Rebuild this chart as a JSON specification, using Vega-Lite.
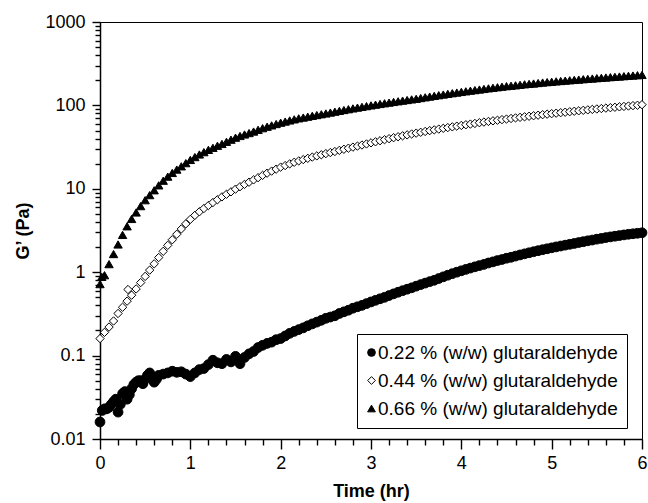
{
"$schema":"https://vega.github.io/schema/vega-lite/v6.json",
"width":542,"height":417,
"autosize":{"type":"none"},
"padding":{"left":100,"top":22,"right":6,"bottom":64},
"background":"white",
"config":{"view":{"stroke":"black","strokeWidth":1},"font":"Liberation Sans"},
"datasets":{
"pts":[
{"s":"a","t":0,"g":0.016},{"s":"a","t":0.025,"g":0.022},{"s":"a","t":0.05,"g":0.023},{"s":"a","t":0.075,"g":0.023},{"s":"a","t":0.1,"g":0.024},{"s":"a","t":0.125,"g":0.026},{"s":"a","t":0.15,"g":0.028},{"s":"a","t":0.175,"g":0.03},{"s":"a","t":0.2,"g":0.021},{"s":"a","t":0.225,"g":0.026},{"s":"a","t":0.25,"g":0.035},{"s":"a","t":0.275,"g":0.037},{"s":"a","t":0.3,"g":0.03},{"s":"a","t":0.325,"g":0.034},{"s":"a","t":0.35,"g":0.04},{"s":"a","t":0.375,"g":0.045},{"s":"a","t":0.4,"g":0.048},{"s":"a","t":0.425,"g":0.05},{"s":"a","t":0.45,"g":0.05},{"s":"a","t":0.475,"g":0.046},{"s":"a","t":0.5,"g":0.052},{"s":"a","t":0.525,"g":0.058},{"s":"a","t":0.55,"g":0.062},{"s":"a","t":0.575,"g":0.055},{"s":"a","t":0.6,"g":0.048},{"s":"a","t":0.625,"g":0.052},{"s":"a","t":0.65,"g":0.058},{"s":"a","t":0.7,"g":0.06},{"s":"a","t":0.75,"g":0.062},{"s":"a","t":0.8,"g":0.065},{"s":"a","t":0.85,"g":0.063},{"s":"a","t":0.9,"g":0.064},{"s":"a","t":0.95,"g":0.06},{"s":"a","t":1,"g":0.056},{"s":"a","t":1.05,"g":0.062},{"s":"a","t":1.1,"g":0.068},{"s":"a","t":1.15,"g":0.07},{"s":"a","t":1.2,"g":0.078},{"s":"a","t":1.25,"g":0.088},{"s":"a","t":1.3,"g":0.082},{"s":"a","t":1.35,"g":0.08},{"s":"a","t":1.4,"g":0.09},{"s":"a","t":1.45,"g":0.084},{"s":"a","t":1.5,"g":0.098},{"s":"a","t":1.55,"g":0.08},{"s":"a","t":1.6,"g":0.095},{"s":"a","t":1.65,"g":0.105},{"s":"a","t":1.7,"g":0.112},{"s":"a","t":1.75,"g":0.125},{"s":"a","t":1.8,"g":0.133},{"s":"a","t":1.85,"g":0.14},{"s":"a","t":1.9,"g":0.145},{"s":"a","t":1.95,"g":0.155},{"s":"a","t":2,"g":0.16},{"s":"a","t":2.05,"g":0.172},{"s":"a","t":2.1,"g":0.185},{"s":"a","t":2.15,"g":0.195},{"s":"a","t":2.2,"g":0.205},{"s":"a","t":2.25,"g":0.215},{"s":"a","t":2.3,"g":0.228},{"s":"a","t":2.35,"g":0.24},{"s":"a","t":2.4,"g":0.252},{"s":"a","t":2.45,"g":0.265},{"s":"a","t":2.5,"g":0.28},{"s":"a","t":2.55,"g":0.29},{"s":"a","t":2.6,"g":0.3},{"s":"a","t":2.65,"g":0.32},{"s":"a","t":2.7,"g":0.335},{"s":"a","t":2.75,"g":0.35},{"s":"a","t":2.8,"g":0.37},{"s":"a","t":2.85,"g":0.385},{"s":"a","t":2.9,"g":0.4},{"s":"a","t":2.95,"g":0.42},{"s":"a","t":3,"g":0.44},{"s":"a","t":3.05,"g":0.46},{"s":"a","t":3.1,"g":0.48},{"s":"a","t":3.15,"g":0.5},{"s":"a","t":3.2,"g":0.525},{"s":"a","t":3.25,"g":0.55},{"s":"a","t":3.3,"g":0.575},{"s":"a","t":3.35,"g":0.6},{"s":"a","t":3.4,"g":0.625},{"s":"a","t":3.45,"g":0.65},{"s":"a","t":3.5,"g":0.68},{"s":"a","t":3.55,"g":0.71},{"s":"a","t":3.6,"g":0.74},{"s":"a","t":3.65,"g":0.77},{"s":"a","t":3.7,"g":0.8},{"s":"a","t":3.75,"g":0.84},{"s":"a","t":3.8,"g":0.88},{"s":"a","t":3.85,"g":0.92},{"s":"a","t":3.9,"g":0.96},{"s":"a","t":3.95,"g":1},{"s":"a","t":4,"g":1.04},{"s":"a","t":4.05,"g":1.08},{"s":"a","t":4.1,"g":1.12},{"s":"a","t":4.15,"g":1.16},{"s":"a","t":4.2,"g":1.2},{"s":"a","t":4.25,"g":1.24},{"s":"a","t":4.3,"g":1.29},{"s":"a","t":4.35,"g":1.33},{"s":"a","t":4.4,"g":1.38},{"s":"a","t":4.45,"g":1.42},{"s":"a","t":4.5,"g":1.47},{"s":"a","t":4.55,"g":1.51},{"s":"a","t":4.6,"g":1.56},{"s":"a","t":4.65,"g":1.61},{"s":"a","t":4.7,"g":1.66},{"s":"a","t":4.75,"g":1.71},{"s":"a","t":4.8,"g":1.76},{"s":"a","t":4.85,"g":1.81},{"s":"a","t":4.9,"g":1.86},{"s":"a","t":4.95,"g":1.91},{"s":"a","t":5,"g":1.96},{"s":"a","t":5.05,"g":2.01},{"s":"a","t":5.1,"g":2.06},{"s":"a","t":5.15,"g":2.11},{"s":"a","t":5.2,"g":2.16},{"s":"a","t":5.25,"g":2.21},{"s":"a","t":5.3,"g":2.27},{"s":"a","t":5.35,"g":2.32},{"s":"a","t":5.4,"g":2.38},{"s":"a","t":5.45,"g":2.43},{"s":"a","t":5.5,"g":2.49},{"s":"a","t":5.55,"g":2.54},{"s":"a","t":5.6,"g":2.6},{"s":"a","t":5.65,"g":2.65},{"s":"a","t":5.7,"g":2.7},{"s":"a","t":5.75,"g":2.75},{"s":"a","t":5.8,"g":2.8},{"s":"a","t":5.85,"g":2.85},{"s":"a","t":5.9,"g":2.89},{"s":"a","t":5.95,"g":2.93},{"s":"a","t":6,"g":2.97},
{"s":"b","t":0,"g":0.16},{"s":"b","t":0.05,"g":0.19},{"s":"b","t":0.1,"g":0.22},{"s":"b","t":0.15,"g":0.26},{"s":"b","t":0.2,"g":0.32},{"s":"b","t":0.25,"g":0.38},{"s":"b","t":0.3,"g":0.45},{"s":"b","t":0.31,"g":0.62},{"s":"b","t":0.35,"g":0.53},{"s":"b","t":0.4,"g":0.63},{"s":"b","t":0.45,"g":0.75},{"s":"b","t":0.5,"g":0.89},{"s":"b","t":0.55,"g":1.06},{"s":"b","t":0.6,"g":1.26},{"s":"b","t":0.65,"g":1.5},{"s":"b","t":0.7,"g":1.78},{"s":"b","t":0.75,"g":2.1},{"s":"b","t":0.8,"g":2.45},{"s":"b","t":0.85,"g":2.85},{"s":"b","t":0.9,"g":3.3},{"s":"b","t":0.95,"g":3.8},{"s":"b","t":1,"g":4.3},{"s":"b","t":1.05,"g":4.8},{"s":"b","t":1.1,"g":5.3},{"s":"b","t":1.15,"g":5.8},{"s":"b","t":1.2,"g":6.3},{"s":"b","t":1.25,"g":6.85},{"s":"b","t":1.3,"g":7.4},{"s":"b","t":1.35,"g":8},{"s":"b","t":1.4,"g":8.6},{"s":"b","t":1.45,"g":9.2},{"s":"b","t":1.5,"g":9.9},{"s":"b","t":1.55,"g":10.6},{"s":"b","t":1.6,"g":11.3},{"s":"b","t":1.65,"g":12},{"s":"b","t":1.7,"g":12.8},{"s":"b","t":1.75,"g":13.6},{"s":"b","t":1.8,"g":14.5},{"s":"b","t":1.85,"g":15.4},{"s":"b","t":1.9,"g":16.3},{"s":"b","t":1.95,"g":17.2},{"s":"b","t":2,"g":18.2},{"s":"b","t":2.05,"g":19},{"s":"b","t":2.1,"g":19.9},{"s":"b","t":2.15,"g":20.8},{"s":"b","t":2.2,"g":21.6},{"s":"b","t":2.25,"g":22.4},{"s":"b","t":2.3,"g":23.2},{"s":"b","t":2.35,"g":24},{"s":"b","t":2.4,"g":24.8},{"s":"b","t":2.45,"g":25.6},{"s":"b","t":2.5,"g":26.4},{"s":"b","t":2.55,"g":27.2},{"s":"b","t":2.6,"g":28},{"s":"b","t":2.65,"g":28.9},{"s":"b","t":2.7,"g":29.8},{"s":"b","t":2.75,"g":30.7},{"s":"b","t":2.8,"g":31.6},{"s":"b","t":2.85,"g":32.5},{"s":"b","t":2.9,"g":33.5},{"s":"b","t":2.95,"g":34.5},{"s":"b","t":3,"g":35.6},{"s":"b","t":3.05,"g":36.6},{"s":"b","t":3.1,"g":37.7},{"s":"b","t":3.15,"g":38.8},{"s":"b","t":3.2,"g":39.9},{"s":"b","t":3.25,"g":41},{"s":"b","t":3.3,"g":42.1},{"s":"b","t":3.35,"g":43.2},{"s":"b","t":3.4,"g":44.3},{"s":"b","t":3.45,"g":45.4},{"s":"b","t":3.5,"g":46.5},{"s":"b","t":3.55,"g":47.6},{"s":"b","t":3.6,"g":48.7},{"s":"b","t":3.65,"g":49.8},{"s":"b","t":3.7,"g":50.9},{"s":"b","t":3.75,"g":52},{"s":"b","t":3.8,"g":53.1},{"s":"b","t":3.85,"g":54.2},{"s":"b","t":3.9,"g":55.3},{"s":"b","t":3.95,"g":56.4},{"s":"b","t":4,"g":57.5},{"s":"b","t":4.05,"g":58.6},{"s":"b","t":4.1,"g":59.7},{"s":"b","t":4.15,"g":60.8},{"s":"b","t":4.2,"g":62},{"s":"b","t":4.25,"g":63.1},{"s":"b","t":4.3,"g":64.2},{"s":"b","t":4.35,"g":65.3},{"s":"b","t":4.4,"g":66.4},{"s":"b","t":4.45,"g":67.5},{"s":"b","t":4.5,"g":68.6},{"s":"b","t":4.55,"g":69.7},{"s":"b","t":4.6,"g":70.8},{"s":"b","t":4.65,"g":71.9},{"s":"b","t":4.7,"g":73},{"s":"b","t":4.75,"g":74.1},{"s":"b","t":4.8,"g":75.2},{"s":"b","t":4.85,"g":76.3},{"s":"b","t":4.9,"g":77.4},{"s":"b","t":4.95,"g":78.5},{"s":"b","t":5,"g":79.6},{"s":"b","t":5.05,"g":80.7},{"s":"b","t":5.1,"g":81.8},{"s":"b","t":5.15,"g":82.9},{"s":"b","t":5.2,"g":84},{"s":"b","t":5.25,"g":85.1},{"s":"b","t":5.3,"g":86.2},{"s":"b","t":5.35,"g":87.3},{"s":"b","t":5.4,"g":88.4},{"s":"b","t":5.45,"g":89.5},{"s":"b","t":5.5,"g":90.6},{"s":"b","t":5.55,"g":91.7},{"s":"b","t":5.6,"g":92.8},{"s":"b","t":5.65,"g":93.9},{"s":"b","t":5.7,"g":95},{"s":"b","t":5.75,"g":96.1},{"s":"b","t":5.8,"g":97.2},{"s":"b","t":5.85,"g":98.3},{"s":"b","t":5.9,"g":99.4},{"s":"b","t":5.95,"g":100.5},{"s":"b","t":6,"g":102},
{"s":"c","t":0,"g":0.72},{"s":"c","t":0.02,"g":0.88},{"s":"c","t":0.05,"g":0.92},{"s":"c","t":0.1,"g":1.25},{"s":"c","t":0.15,"g":1.65},{"s":"c","t":0.2,"g":2.15},{"s":"c","t":0.25,"g":2.8},{"s":"c","t":0.3,"g":3.55},{"s":"c","t":0.35,"g":4.35},{"s":"c","t":0.4,"g":5.2},{"s":"c","t":0.45,"g":6.2},{"s":"c","t":0.5,"g":7.3},{"s":"c","t":0.55,"g":8.4},{"s":"c","t":0.6,"g":9.6},{"s":"c","t":0.65,"g":11},{"s":"c","t":0.7,"g":12.5},{"s":"c","t":0.75,"g":14},{"s":"c","t":0.8,"g":15.5},{"s":"c","t":0.85,"g":17},{"s":"c","t":0.9,"g":18.6},{"s":"c","t":0.95,"g":20.3},{"s":"c","t":1,"g":22.2},{"s":"c","t":1.05,"g":24},{"s":"c","t":1.1,"g":25.8},{"s":"c","t":1.15,"g":27.5},{"s":"c","t":1.2,"g":29.3},{"s":"c","t":1.25,"g":31},{"s":"c","t":1.3,"g":32.8},{"s":"c","t":1.35,"g":34.5},{"s":"c","t":1.4,"g":36.6},{"s":"c","t":1.45,"g":38.8},{"s":"c","t":1.5,"g":41},{"s":"c","t":1.55,"g":43},{"s":"c","t":1.6,"g":44.8},{"s":"c","t":1.65,"g":46.6},{"s":"c","t":1.7,"g":48.6},{"s":"c","t":1.75,"g":51},{"s":"c","t":1.8,"g":53.3},{"s":"c","t":1.85,"g":55.5},{"s":"c","t":1.9,"g":57.6},{"s":"c","t":1.95,"g":59.8},{"s":"c","t":2,"g":62},{"s":"c","t":2.05,"g":64},{"s":"c","t":2.1,"g":66},{"s":"c","t":2.15,"g":68},{"s":"c","t":2.2,"g":70},{"s":"c","t":2.25,"g":71.5},{"s":"c","t":2.3,"g":73.2},{"s":"c","t":2.35,"g":75},{"s":"c","t":2.4,"g":76.6},{"s":"c","t":2.45,"g":78.3},{"s":"c","t":2.5,"g":80},{"s":"c","t":2.55,"g":82},{"s":"c","t":2.6,"g":84},{"s":"c","t":2.65,"g":86},{"s":"c","t":2.7,"g":88},{"s":"c","t":2.75,"g":90},{"s":"c","t":2.8,"g":92},{"s":"c","t":2.85,"g":94},{"s":"c","t":2.9,"g":96},{"s":"c","t":2.95,"g":98},{"s":"c","t":3,"g":100},{"s":"c","t":3.05,"g":102},{"s":"c","t":3.1,"g":104},{"s":"c","t":3.15,"g":106},{"s":"c","t":3.2,"g":108},{"s":"c","t":3.25,"g":110},{"s":"c","t":3.3,"g":112},{"s":"c","t":3.35,"g":114},{"s":"c","t":3.4,"g":116},{"s":"c","t":3.45,"g":118},{"s":"c","t":3.5,"g":120},{"s":"c","t":3.55,"g":122.5},{"s":"c","t":3.6,"g":125},{"s":"c","t":3.65,"g":127.5},{"s":"c","t":3.7,"g":130},{"s":"c","t":3.75,"g":132.5},{"s":"c","t":3.8,"g":135},{"s":"c","t":3.85,"g":137.5},{"s":"c","t":3.9,"g":140},{"s":"c","t":3.95,"g":142.5},{"s":"c","t":4,"g":145},{"s":"c","t":4.05,"g":147.5},{"s":"c","t":4.1,"g":150},{"s":"c","t":4.15,"g":152.5},{"s":"c","t":4.2,"g":155},{"s":"c","t":4.25,"g":157.5},{"s":"c","t":4.3,"g":160},{"s":"c","t":4.35,"g":162.5},{"s":"c","t":4.4,"g":165},{"s":"c","t":4.45,"g":167.5},{"s":"c","t":4.5,"g":170},{"s":"c","t":4.55,"g":172},{"s":"c","t":4.6,"g":174},{"s":"c","t":4.65,"g":176.5},{"s":"c","t":4.7,"g":179},{"s":"c","t":4.75,"g":181},{"s":"c","t":4.8,"g":183},{"s":"c","t":4.85,"g":185.5},{"s":"c","t":4.9,"g":188},{"s":"c","t":4.95,"g":190},{"s":"c","t":5,"g":192},{"s":"c","t":5.05,"g":194},{"s":"c","t":5.1,"g":196},{"s":"c","t":5.15,"g":198},{"s":"c","t":5.2,"g":200},{"s":"c","t":5.25,"g":202},{"s":"c","t":5.3,"g":204},{"s":"c","t":5.35,"g":206},{"s":"c","t":5.4,"g":208},{"s":"c","t":5.45,"g":210},{"s":"c","t":5.5,"g":212},{"s":"c","t":5.55,"g":214},{"s":"c","t":5.6,"g":216},{"s":"c","t":5.65,"g":218},{"s":"c","t":5.7,"g":220},{"s":"c","t":5.75,"g":222},{"s":"c","t":5.8,"g":224},{"s":"c","t":5.85,"g":226},{"s":"c","t":5.9,"g":228},{"s":"c","t":5.95,"g":230},{"s":"c","t":6,"g":232}
]},
"data":{"name":"pts"},
"mark":{"type":"point","filled":true,"strokeWidth":1,"opacity":1},
"encoding":{
  "x":{"field":"t","type":"quantitative","scale":{"domain":[0,6],"nice":false,"zero":false},
   "axis":{"orient":"bottom","values":[0,0.2,0.4,0.6,0.8,1,1.2,1.4,1.6,1.8,2,2.2,2.4,2.6,2.8,3,3.2,3.4,3.6,3.8,4,4.2,4.4,4.6,4.8,5,5.2,5.4,5.6,5.8,6],
    "labelExpr":"abs(datum.value - round(datum.value)) < 0.001 ? format(datum.value, 'd') : ''",
    "grid":false,
    "tickSize":{"condition":{"test":"abs(datum.value - round(datum.value)) < 0.001","value":10},"value":6},
    "tickWidth":1.4,"tickColor":"black","domainColor":"black","domainWidth":1.5,"labelFont":"Liberation Sans","labelFontSize":18,"labelColor":"black","labelPadding":5,"labelFlush":false,"labelOverlap":false,"title":"Time (hr)","titleFont":"Liberation Sans","titleFontSize":18,"titleFontWeight":"bold","titleColor":"black","titlePadding":10}},
  "y":{"field":"g","type":"quantitative","scale":{"type":"log","domain":[0.01,1000],"nice":false},
   "axis":{"orient":"left","values":[0.01,0.02,0.03,0.04,0.05,0.06,0.07,0.08,0.09,0.1,0.2,0.3,0.4,0.5,0.6,0.7,0.8,0.9,1,2,3,4,5,6,7,8,9,10,20,30,40,50,60,70,80,90,100,200,300,400,500,600,700,800,900,1000],
    "labelExpr":"abs(log(datum.value)/LN10 - round(log(datum.value)/LN10)) < 0.001 ? format(datum.value, '~g') : ''",
    "grid":false,
    "tickSize":{"condition":{"test":"abs(log(datum.value)/LN10 - round(log(datum.value)/LN10)) < 0.001","value":8},"value":5},
    "tickWidth":1.4,"tickColor":"black","domainColor":"black","domainWidth":1.5,"labelFont":"Liberation Sans","labelFontSize":18,"labelColor":"black","labelPadding":7,"labelFlush":false,"labelOverlap":false,"title":"G’ (Pa)","titleFont":"Liberation Sans","titleFontSize":18,"titleFontWeight":"bold","titleColor":"black","titlePadding":12}},
  "shape":{"field":"s","type":"nominal","scale":{"domain":["a","b","c"],"range":["circle","diamond","triangle-up"]},
   "legend":{"orient":"none","legendX":257,"legendY":312,"title":null,"padding":9,"strokeColor":"black","fillColor":"white","cornerRadius":0,"labelFont":"Liberation Sans","labelFontSize":19,"labelColor":"black","labelOffset":-3,"symbolOffset":-4,"labelLimit":400,"rowPadding":8,"symbolSize":60,"symbolStrokeWidth":1,
    "labelExpr":"datum.label == 'a' ? '0.22 % (w/w) glutaraldehyde' : datum.label == 'b' ? '0.44 % (w/w) glutaraldehyde' : '0.66 % (w/w) glutaraldehyde'"}},
  "fill":{"field":"s","type":"nominal","scale":{"domain":["a","b","c"],"range":["black","white","black"]}},
  "stroke":{"field":"s","type":"nominal","scale":{"domain":["a","b","c"],"range":["black","black","black"]}},
  "size":{"condition":{"test":"datum.s == 'a'","value":95},"value":70}
}
}
